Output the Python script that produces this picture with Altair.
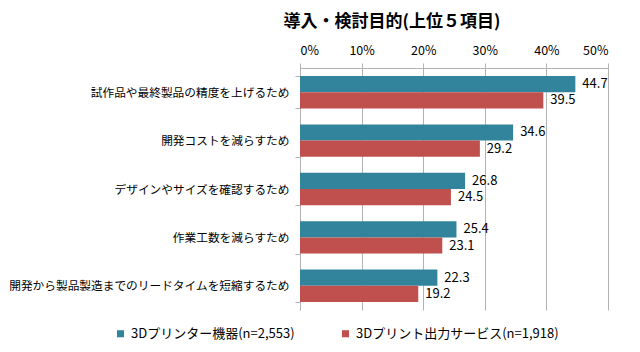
import altair as alt
import pandas as pd

categories = [
    "試作品や最終製品の精度を上げるため",
    "開発コストを減らすため",
    "デザインやサイズを確認するため",
    "作業工数を減らすため",
    "開発から製品製造までのリードタイムを短縮するため",
]
series_names = ["3Dプリンター機器(n=2,553)", "3Dプリント出力サービス(n=1,918)"]
printer_vals = [44.7, 34.6, 26.8, 25.4, 22.3]
service_vals = [39.5, 29.2, 24.5, 23.1, 19.2]
x_ticks = [0, 10, 20, 30, 40, 50]
colors = ["#31849B", "#C0504D"]

rows = []
for c, a, b in zip(categories, printer_vals, service_vals):
    rows.append({"cat": c, "series": series_names[0], "value": a})
    rows.append({"cat": c, "series": series_names[1], "value": b})
df = pd.DataFrame(rows)

FONT = "Noto Sans CJK JP"
GRID = "#B3B3B3"

y_enc = alt.Y(
    "cat:N",
    sort=categories,
    scale=alt.Scale(paddingInner=0.33, paddingOuter=0.165),
    axis=alt.Axis(
        title=None,
        labelFont=FONT,
        labelFontSize=11.7,
        labelColor="#000000",
        labelPadding=6,
        labelLimit=320,
        tickBand="extent",
        tickSize=5,
        tickColor=GRID,
        domainColor=GRID,
        grid=False,
    ),
)
yoff = alt.YOffset("series:N", sort=series_names)

base = alt.Chart(df)

bars = base.mark_bar().encode(
    x=alt.X(
        "value:Q",
        scale=alt.Scale(domain=[0, 50], nice=False),
        axis=alt.Axis(
            orient="top",
            title=None,
            values=x_ticks,
            labelExpr="datum.value + '%'",
            labelFont=FONT,
            labelFontSize=12.5,
            labelColor="#000000",
            labelPadding=6,
            tickSize=5,
            tickColor=GRID,
            domainColor=GRID,
            gridColor=GRID,
        ),
    ),
    y=y_enc,
    yOffset=yoff,
    color=alt.Color(
        "series:N",
        sort=series_names,
        scale=alt.Scale(domain=series_names, range=colors),
        legend=alt.Legend(
            title=None,
            orient="none",
            direction="horizontal",
            legendX=-186,
            legendY=259,
            symbolType="square",
            symbolSize=50,
            symbolStrokeWidth=0,
            labelFont=FONT,
            labelFontSize=13,
            labelColor="#000000",
            labelOffset=4,
            columnPadding=44,
            labelLimit=400,
        ),
    ),
)

labels = base.mark_text(
    align="left", baseline="middle", dx=7, font=FONT, fontSize=13, color="#000000"
).encode(
    x="value:Q",
    y=alt.Y("cat:N", sort=categories),
    yOffset=yoff,
    text=alt.Text("value:Q", format=".1f"),
)

chart = (
    alt.layer(bars, labels)
    .properties(
        width=308,
        height=242,
        title=alt.TitleParams(
            "導入・検討目的(上位５項目)",
            font=FONT,
            fontSize=17,
            fontWeight="bold",
            color="#000000",
            anchor="middle",
            dx=-62,
            offset=13,
        ),
        autosize=alt.AutoSizeParams(type="none"),
        padding={"left": 300, "top": 68, "right": 32, "bottom": 42},
    )
    .configure_view(stroke=None)
)

chart.save("out.html", embed_options={"renderer": "svg", "actions": False})
